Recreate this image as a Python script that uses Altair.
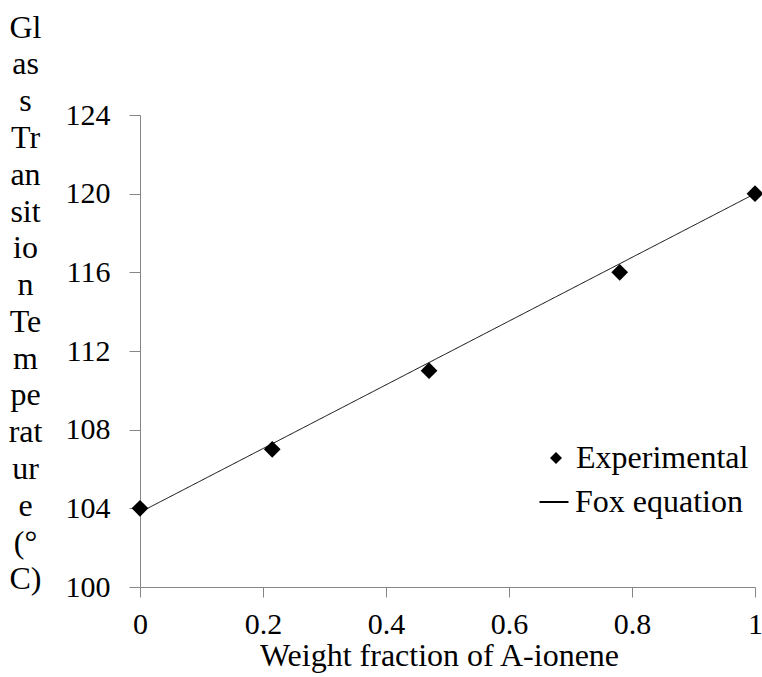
import altair as alt
import pandas as pd

# ---- data ----
weight_fraction = [0, 0.215, 0.47, 0.78, 1.0]
tg_experimental = [104, 107, 111, 116, 120]
fox_fraction = [0, 1.0]
tg_fox = [103.8, 120]
x_ticks = [0, 0.2, 0.4, 0.6, 0.8, 1.0]
y_ticks = [100, 104, 108, 112, 116, 120, 124]
y_title_lines = ["Gl", "as", "s", "Tr", "an", "sit", "io", "n", "Te", "m",
                 "pe", "rat", "ur", "e", "(°", "C)"]
x_title = "Weight fraction of A-ionene"
exp_label = "Experimental"
fox_label = "Fox equation"

FONT = "Liberation Serif"
GRAY = "#868686"
FS = 30      # tick labels
TFS = 32     # titles and legend

exp_df = pd.DataFrame({"w": weight_fraction, "tg": tg_experimental, "series": exp_label})
fox_df = pd.DataFrame({"w": fox_fraction, "tg": tg_fox, "model": fox_label})

x_axis = alt.Axis(
    values=x_ticks, format="~g", title=x_title, grid=False,
    domainColor=GRAY, tickColor=GRAY, tickSize=10, domainWidth=1, tickWidth=1,
    labelFont=FONT, labelFontSize=FS, labelColor="black", labelPadding=12,
    labelFlush=False, labelOverlap=False,
    titleFont=FONT, titleFontSize=TFS, titleFontWeight="normal", titleColor="black",
    titleBaseline="alphabetic", titleAlign="center", titleX=299, titleY=78,
)
y_axis = alt.Axis(
    values=y_ticks, title=y_title_lines, grid=False,
    domainColor=GRAY, tickColor=GRAY, tickSize=11, domainWidth=1, tickWidth=1,
    labelFont=FONT, labelFontSize=FS, labelColor="black", labelPadding=19,
    labelBaseline="middle", labelFlush=False, labelOverlap=False,
    titleFont=FONT, titleFontSize=TFS, titleFontWeight="normal", titleColor="black",
    titleAngle=0, titleAlign="center", titleBaseline="alphabetic",
    titleX=-115, titleY=-78, titleLineHeight=36.8,
)

x_scale = alt.Scale(domain=[0, 1], nice=False, zero=False)
y_scale = alt.Scale(domain=[100, 124], nice=False, zero=False)

line = alt.Chart(fox_df).mark_line(color="black", strokeWidth=1).encode(
    x=alt.X("w:Q", scale=x_scale, axis=x_axis),
    y=alt.Y("tg:Q", scale=y_scale, axis=y_axis),
    strokeDash=alt.StrokeDash(
        "model:N",
        scale=alt.Scale(domain=[fox_label], range=[[1, 0]]),
        legend=alt.Legend(
            title=None, orient="none", legendX=398, legendY=371, padding=0,
            symbolType="stroke", symbolSize=841, symbolStrokeWidth=2,
            symbolStrokeColor="black", labelFont=FONT, labelFontSize=TFS,
            labelColor="black", labelOffset=5, labelLimit=400,
        ),
    ),
)

points = alt.Chart(exp_df).mark_point(filled=True, color="black", size=280, opacity=1).encode(
    x=alt.X("w:Q", scale=x_scale, axis=x_axis),
    y=alt.Y("tg:Q", scale=y_scale, axis=y_axis),
    shape=alt.Shape(
        "series:N",
        scale=alt.Scale(domain=[exp_label], range=["diamond"]),
        legend=alt.Legend(
            title=None, orient="none", legendX=400, legendY=327, padding=0,
            symbolSize=144, symbolFillColor="black", symbolStrokeWidth=0,
            symbolOpacity=1, labelFont=FONT, labelFontSize=TFS,
            labelColor="black", labelOffset=4, labelLimit=400,
        ),
    ),
)

chart = alt.layer(line, points).properties(
    width=615, height=472,
    padding={"left": 140, "top": 115, "right": 7, "bottom": 90},
    autosize=alt.AutoSizeParams(type="none"),
    background="white",
).configure_view(stroke=None)

chart.save("out.html", embed_options={"renderer": "svg", "actions": False})
